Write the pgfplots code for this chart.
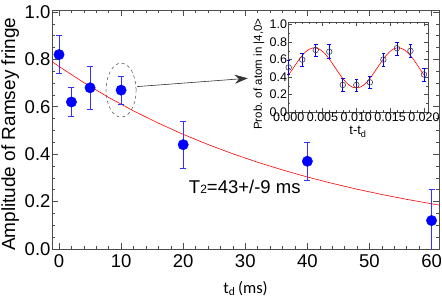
\documentclass[border=0pt]{standalone}
\usepackage{pgfplots}
\pgfplotsset{compat=1.18}
\usepackage{fontspec}
\setmainfont{Liberation Sans}
\newfontfamily\carlito{Carlito}
\usetikzlibrary{arrows.meta}
\begin{document}
\begin{tikzpicture}
\begin{axis}[
  at={(0,0)}, anchor=south west,
  scale only axis, width=387pt, height=239pt,
  xmin=-1.13, xmax=61.2, ymin=0, ymax=1.008,
  xtick={0,10,20,30,40,50,60},
  ytick={0,0.2,0.4,0.6,0.8,1.0},
  minor x tick num=4, minor y tick num=3,
  tick align=inside, major tick length=6pt, minor tick length=3pt,
  axis line style={black!70, line width=0.6pt},
  every tick/.style={black!70, line width=0.5pt},
  /pgf/number format/assume math mode=true,
  tick label style={font=\fontsize{18.5}{20}\selectfont},
  yticklabel style={/pgf/number format/.cd, fixed, fixed zerofill, precision=1, /tikz/xshift=2pt},
  xticklabel style={yshift=-2pt},
  ylabel={Amplitude of Ramsey fringe},
  ylabel style={at={(axis description cs:-0.108,0.48)}, anchor=center, font=\fontsize{19}{21}\selectfont},
  xlabel={\carlito t\textsubscript{d}\,(ms)},
  xlabel style={at={(axis description cs:0.5,-0.165)}, anchor=center, font=\fontsize{16.5}{18}\selectfont},
]
\addplot[color=red, line width=0.6pt] coordinates {
(-1.1,0.790) (0,0.770) (4,0.7016) (8,0.6393) (12,0.5825) (16,0.5308) (20,0.4836)
(24,0.4407) (28,0.4015) (32,0.3658) (36,0.3333) (40,0.3037) (44,0.2768)
(48,0.2522) (52,0.2298) (56,0.2094) (60,0.1908) (61.2,0.1855)};
% error bars: low and high ends of each bar, separated by nan
\addplot[color=blue!80, line width=0.7pt, mark=-, mark size=3pt, unbounded coords=jump,
  mark options={solid, color=blue!80, line width=0.6pt}, forget plot] coordinates {
(0,0.74) (0,0.90) (nan,nan)
(2,0.56) (2,0.68) (nan,nan)
(5,0.59) (5,0.77) (nan,nan)
(10,0.61) (10,0.73) (nan,nan)
(20,0.34) (20,0.54) (nan,nan)
(40,0.29) (40,0.45) (nan,nan)
(60,-0.01) (60,0.25)};
\addplot[color=blue, only marks, mark=*, mark size=5.2pt, mark options={color=blue, fill=blue}] coordinates {
(0,0.82) (2,0.62) (5,0.68) (10,0.67) (20,0.44) (40,0.37) (60,0.12)};
\draw[black!70, dashed, line width=0.5pt] (axis cs:10,0.67) ellipse [x radius=15pt, y radius=27pt];
\draw[black!80, line width=0.6pt, -{Stealth[length=13pt, width=9pt]}] (axis cs:12.6,0.685) -- (axis cs:30.4,0.72);
\node[anchor=base west, font=\fontsize{18.5}{20}\selectfont, inner sep=0pt] at (axis cs:20.9,0.236) {T{\fontsize{12}{12}\selectfont 2}=43+/-9 ms};
\end{axis}
\begin{axis}[
  at={(236pt,137pt)}, anchor=south west,
  scale only axis, width=140pt, height=90pt,
  xmin=-0.0001, xmax=0.0206, ymin=0, ymax=1.03,
  axis background/.style={fill=white},
  xtick={0,0.005,0.010,0.015,0.020},
  ytick={0,0.2,0.4,0.6,0.8,1.0},
  scaled x ticks=false,
  minor x tick num=4, minor y tick num=1,
  tick align=inside, major tick length=4pt, minor tick length=2pt,
  axis line style={black!70, line width=0.5pt},
  every tick/.style={black!70, line width=0.4pt},
  /pgf/number format/assume math mode=true,
  tick label style={font=\fontsize{12.5}{14}\selectfont},
  xticklabel style={/pgf/number format/.cd, fixed, fixed zerofill, precision=3, /tikz/yshift=3pt},
  yticklabel style={/pgf/number format/.cd, fixed, fixed zerofill, precision=1, /tikz/xshift=2.5pt},
  ylabel={Prob. of atom in |4,0>},
  ylabel style={at={(axis description cs:-0.207,0.42)}, anchor=center, font=\fontsize{11.5}{13}\selectfont},
  xlabel={t-t\textsubscript{d}},
  xlabel style={at={(axis description cs:0.5,-0.22)}, anchor=center, font=\fontsize{13}{15}\selectfont},
]
\addplot[color=red, line width=0.6pt, smooth] coordinates {
(0,0.425) (0.0005,0.482) (0.0010,0.540) (0.0015,0.596) (0.0020,0.646) (0.0025,0.687)
(0.0030,0.716) (0.0035,0.732) (0.0040,0.734) (0.0045,0.721) (0.0050,0.694) (0.0055,0.655)
(0.0060,0.606) (0.0065,0.551) (0.0070,0.493) (0.0075,0.436) (0.0080,0.383) (0.0085,0.338)
(0.0090,0.304) (0.0095,0.282) (0.0100,0.275) (0.0105,0.282) (0.0110,0.304) (0.0115,0.338)
(0.0120,0.384) (0.0125,0.436) (0.0130,0.494) (0.0135,0.551) (0.0140,0.607) (0.0145,0.655)
(0.0150,0.694) (0.0155,0.721) (0.0160,0.734) (0.0165,0.732) (0.0170,0.716) (0.0175,0.687)
(0.0180,0.645) (0.0185,0.596) (0.0190,0.540) (0.0195,0.482) (0.0200,0.425)};
\addplot[color=blue, line width=0.7pt, mark=-, mark size=1.8pt, unbounded coords=jump,
  mark options={solid, color=blue, line width=0.5pt}, forget plot] coordinates {
(0.000,0.43) (0.000,0.59) (nan,nan)
(0.002,0.52) (0.002,0.67) (nan,nan)
(0.004,0.64) (0.004,0.78) (nan,nan)
(0.006,0.62) (0.006,0.77) (nan,nan)
(0.008,0.24) (0.008,0.39) (nan,nan)
(0.010,0.24) (0.010,0.37) (nan,nan)
(0.012,0.27) (0.012,0.41) (nan,nan)
(0.014,0.52) (0.014,0.67) (nan,nan)
(0.016,0.65) (0.016,0.80) (nan,nan)
(0.018,0.63) (0.018,0.77) (nan,nan)
(0.020,0.35) (0.020,0.50)};
\addplot[color=black!75, only marks, mark=o, mark size=2.8pt, mark options={color=black!75, line width=0.6pt}] coordinates {
(0.000,0.51) (0.002,0.60) (0.004,0.71) (0.006,0.69) (0.008,0.31) (0.010,0.31)
(0.012,0.34) (0.014,0.60) (0.016,0.73) (0.018,0.70) (0.020,0.43)};
\end{axis}
\pgfresetboundingbox
\path[use as bounding box] (-52pt,-49pt) rectangle (390pt,249pt);
\end{tikzpicture}
\end{document}
